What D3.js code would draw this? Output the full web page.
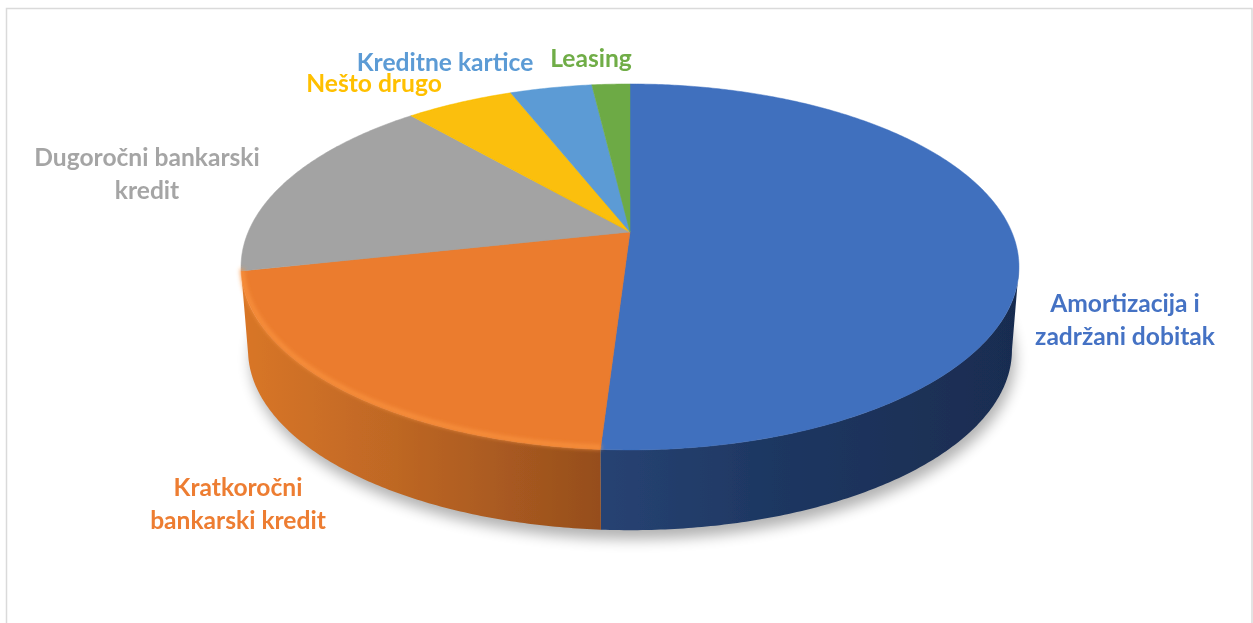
<!DOCTYPE html>
<html>
<head>
<meta charset="utf-8">
<script src="https://cdn.jsdelivr.net/npm/d3@7"></script>
<style>
  html, body { margin: 0; padding: 0; background: #fff; overflow: hidden; }
  text { font-family: Lato, "Open Sans", sans-serif; font-weight: 700; }
</style>
</head>
<body>
<div id="chart"></div>
<script>
var categories = ["Amortizacija i zadržani dobitak", "Kratkoročni bankarski kredit", "Dugoročni bankarski kredit", "Nešto drugo", "Kreditne kartice", "Leasing"];
var values = [51, 20.6, 17, 5.4, 4.1, 1.9];
var colors = ["#3F6FBE", "#EB7B2D", "#A3A3A3", "#FBBF07", "#5B9BD5", "#6DAA45"];
var labelColors = ["#4472C4", "#ED7D31", "#A5A5A5", "#FFC000", "#5B9BD5", "#70AD47"];
var labelLines = [["Amortizacija i", "zadržani dobitak"], ["Kratkoročni", "bankarski kredit"], ["Dugoročni bankarski", "kredit"], ["Nešto drugo"], ["Kreditne kartice"], ["Leasing"]];
var labelPos = [[1125, 312], [238, 496], [147, 166], [374, 92], [445, 71], [591, 67]];

var width = 1253, height = 623;
var svg = d3.select("#chart").append("svg")
  .attr("width", width).attr("height", height)
  .style("display", "block");

var defs = svg.append("defs");
defs.append("filter").attr("id", "shadowBlur")
  .attr("x", "-10%").attr("y", "-10%").attr("width", "120%").attr("height", "120%")
  .append("feGaussianBlur").attr("stdDeviation", 7);
defs.append("filter").attr("id", "edgeBlur")
  .attr("x", "-5%").attr("y", "-5%").attr("width", "110%").attr("height", "110%")
  .append("feGaussianBlur").attr("stdDeviation", 2);
defs.append("filter").attr("id", "soft")
  .attr("x", "-5%").attr("y", "-5%").attr("width", "110%").attr("height", "110%")
  .append("feGaussianBlur").attr("stdDeviation", 0.7);
defs.append("filter").attr("id", "textSoft")
  .attr("x", "-5%").attr("y", "-10%").attr("width", "110%").attr("height", "120%")
  .append("feGaussianBlur").attr("stdDeviation", 0.35);

function sideGradient(id, stops) {
  var g = defs.append("linearGradient").attr("id", id)
    .attr("gradientUnits", "userSpaceOnUse")
    .attr("x1", 240).attr("x2", 1020).attr("y1", 0).attr("y2", 0);
  stops.forEach(function (s) {
    g.append("stop").attr("offset", s[0]).attr("stop-color", s[1]);
  });
}
sideGradient("sideOrange", [[0, "#D97628"], [0.2, "#BE6724"], [0.46, "#964E1D"]]);
sideGradient("sideBlue", [[0.46, "#274373"], [0.68, "#1E3762"], [1, "#192C50"]]);

// border of the pasted picture
svg.append("path")
  .attr("d", "M6.5," + height + "V8.5H1252V" + height)
  .attr("fill", "none").attr("stroke", "#DADADA").attr("stroke-width", 1.5);

// perspective disc: unit circle to screen, the apex sits above the ellipse centre
var apexX = 630, apexY = 232, A = 381.8, B = 176.3, tilt = 0.191;
function project(theta) {
  var u = Math.sin(theta), v = -Math.cos(theta), w = 1 - tilt * v;
  return [apexX + A * u / w, apexY + B * v / w];
}
// lower rim of the wall
var ellipseY = 267, baseY = 350;
function projectBase(theta) {
  var p = project(theta);
  return [apexX + (p[0] - apexX) * 0.982, baseY + (p[1] - ellipseY) * 0.985];
}
function sample(a0, a1) {
  var n = Math.max(2, Math.ceil((a1 - a0) / 0.01));
  return d3.range(n + 1).map(function (i) { return a0 + (a1 - a0) * i / n; });
}

var pie = d3.pie().sort(null).value(function (d) { return d; });
var arcs = pie(values);
var line = d3.line();

// drop shadow
svg.append("path")
  .attr("d", line(sample(0, 2 * Math.PI).map(projectBase)) + "Z")
  .attr("transform", "translate(3,9)")
  .attr("fill", "#000").attr("opacity", 0.3)
  .attr("filter", "url(#shadowBlur)");

// wall, from the widest point of the rim on each side
var wallMin = Math.acos(-tilt), wallMax = 2 * Math.PI - wallMin;
var wallFill = ["url(#sideBlue)", "url(#sideOrange)"];
svg.append("g").selectAll("path")
  .data(arcs.slice(0, 2))
  .join("path")
  .attr("d", function (d) {
    var a0 = Math.max(d.startAngle, wallMin), a1 = Math.min(d.endAngle, wallMax);
    var t = sample(a0, a1);
    return line(t.map(project).concat(t.slice().reverse().map(projectBase))) + "Z";
  })
  .attr("fill", function (d, i) { return wallFill[i]; })
  .attr("filter", "url(#soft)");

// top face
svg.append("g").selectAll("path")
  .data(arcs)
  .join("path")
  .attr("d", function (d) {
    return line([[apexX, apexY]].concat(sample(d.startAngle, d.endAngle).map(project))) + "Z";
  })
  .attr("fill", function (d, i) { return colors[i]; })
  .attr("stroke", function (d, i) { return colors[i]; })
  .attr("stroke-width", 0.5)
  .attr("filter", "url(#soft)");

// light bevel along the front of the orange slice
svg.append("path")
  .attr("d", line(sample(arcs[1].startAngle, arcs[1].endAngle).map(project).map(function (p) {
    return [p[0] + 1, p[1] - 2];
  })))
  .attr("fill", "none").attr("stroke", "#FA9440").attr("stroke-width", 3.5)
  .attr("filter", "url(#edgeBlur)");

// labels
var labels = svg.append("g").attr("filter", "url(#textSoft)").selectAll("text")
  .data(categories)
  .join("text")
  .attr("text-anchor", "middle")
  .attr("font-size", 24.6)
  .attr("fill", function (d, i) { return labelColors[i]; })
  .attr("transform", function (d, i) { return "translate(" + labelPos[i] + ")"; });
labels.selectAll("tspan")
  .data(function (d, i) { return labelLines[i]; })
  .join("tspan")
  .attr("x", 0)
  .attr("y", function (d, i) { return i * 33; })
  .text(function (d) { return d; });
</script>
</body>
</html>
